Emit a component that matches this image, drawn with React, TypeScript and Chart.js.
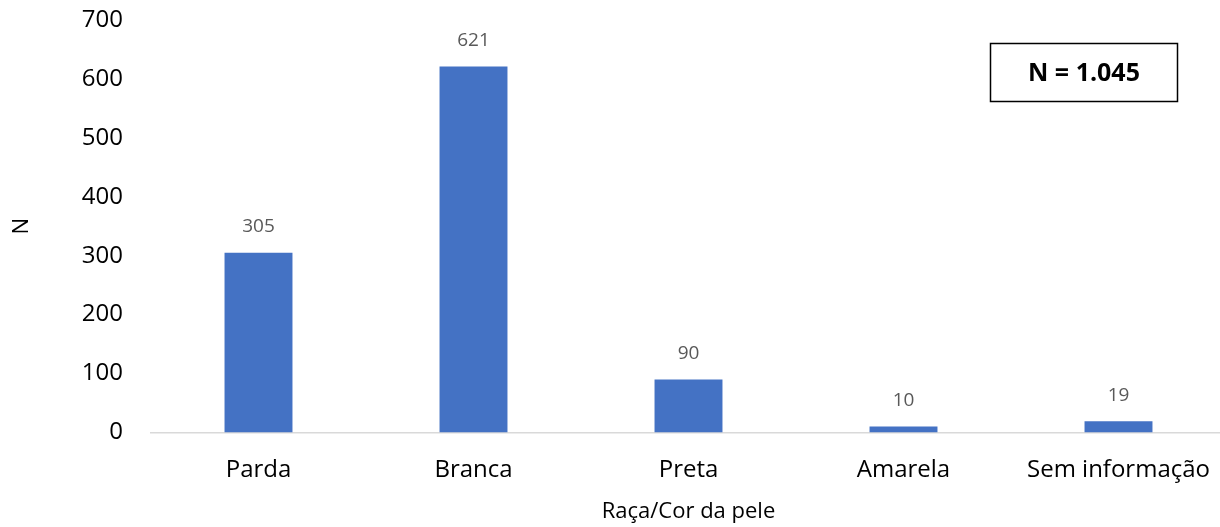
import React, { useEffect, useRef } from "react";
import { Chart, registerables } from "chart.js";

Chart.register(...registerables);

const categories = ["Parda", "Branca", "Preta", "Amarela", "Sem informação"];
const counts = [305, 621, 90, 10, 19];
const yTicks = [0, 100, 200, 300, 400, 500, 600, 700];
const totalLabel = "N = 1.045";
const xTitle = "Raça/Cor da pele";
const yTitle = "N";

const FONT = "'Open Sans', 'DejaVu Sans', sans-serif";

// The plot runs slightly past the visible frame on the right.
const CANVAS_W = 1226;
const VIEW_W = 1220;
const VIEW_H = 527;

// Writes each bar's value above it.
const valueLabels = {
  id: "valueLabels",
  afterDatasetsDraw(chart: any) {
    const { ctx } = chart;
    const meta = chart.getDatasetMeta(0);
    ctx.save();
    ctx.font = `19px ${FONT}`;
    ctx.fillStyle = "#595959";
    ctx.textAlign = "center";
    ctx.textBaseline = "middle";
    meta.data.forEach((bar: any, i: number) => {
      const v = chart.data.datasets[0].data[i];
      ctx.fillText(String(v), bar.x, bar.y - 26);
    });
    ctx.restore();
  },
};

// Framed total in the upper right corner.
const totalBox = {
  id: "totalBox",
  afterDraw(chart: any) {
    const { ctx } = chart;
    const x = 990.5, y = 43.5, w = 187, h = 58;
    ctx.save();
    ctx.lineWidth = 1.5;
    ctx.strokeStyle = "#000";
    ctx.strokeRect(x, y, w, h);
    ctx.font = `bold 25px ${FONT}`;
    ctx.fillStyle = "#000";
    ctx.textAlign = "center";
    ctx.textBaseline = "middle";
    ctx.fillText(totalLabel, x + w / 2, y + h / 2 + 1);
    ctx.restore();
  },
};

export default function App() {
  const ref = useRef<HTMLCanvasElement | null>(null);

  useEffect(() => {
    if (!ref.current) return;
    const chart = new Chart(ref.current, {
      type: "bar",
      data: {
        labels: categories,
        datasets: [
          {
            data: counts,
            backgroundColor: "#4472C4",
            categoryPercentage: 1,
            barPercentage: 0.316,
          },
        ],
      },
      options: {
        responsive: false,
        animation: false,
        layout: { padding: { top: 20, right: 0, bottom: 0, left: 0 } },
        plugins: {
          legend: { display: false },
          tooltip: { enabled: false },
        },
        scales: {
          x: {
            grid: { display: false, drawTicks: false },
            border: { display: true, color: "#d9d9d9", width: 1.5 },
            ticks: {
              color: "#000",
              font: { family: FONT, size: 24 },
              padding: 23,
              maxRotation: 0,
              autoSkip: false,
            },
            title: {
              display: true,
              text: xTitle,
              color: "#000",
              font: { family: FONT, size: 22 },
              padding: { top: 0, bottom: 2 },
            },
            afterFit(scale: any) {
              scale.height = 94.5;
              scale.paddingLeft = 0;
              scale.paddingRight = 0;
            },
          },
          y: {
            min: 0,
            max: 700,
            afterBuildTicks(scale: any) {
              scale.ticks = yTicks.map((v) => ({ value: v }));
            },
            grid: { display: false, drawTicks: false },
            border: { display: false },
            ticks: {
              color: "#000",
              font: { family: FONT, size: 24 },
              padding: 28,
            },
            title: {
              display: true,
              text: yTitle,
              color: "#000",
              font: { family: FONT, size: 22 },
              padding: { top: 9, bottom: 0 },
            },
            afterFit(scale: any) {
              scale.width = 151;
              scale.paddingTop = 0;
              scale.paddingBottom = 0;
            },
          },
        },
      },
      plugins: [valueLabels, totalBox],
    });
    return () => chart.destroy();
  }, []);

  return (
    <div
      style={{
        position: "fixed",
        left: 0,
        top: 0,
        width: VIEW_W,
        height: VIEW_H,
        overflow: "hidden",
        background: "#fff",
      }}
    >
      <canvas
        ref={ref}
        width={CANVAS_W}
        height={VIEW_H}
        style={{ width: CANVAS_W, height: VIEW_H, display: "block" }}
      />
    </div>
  );
}
